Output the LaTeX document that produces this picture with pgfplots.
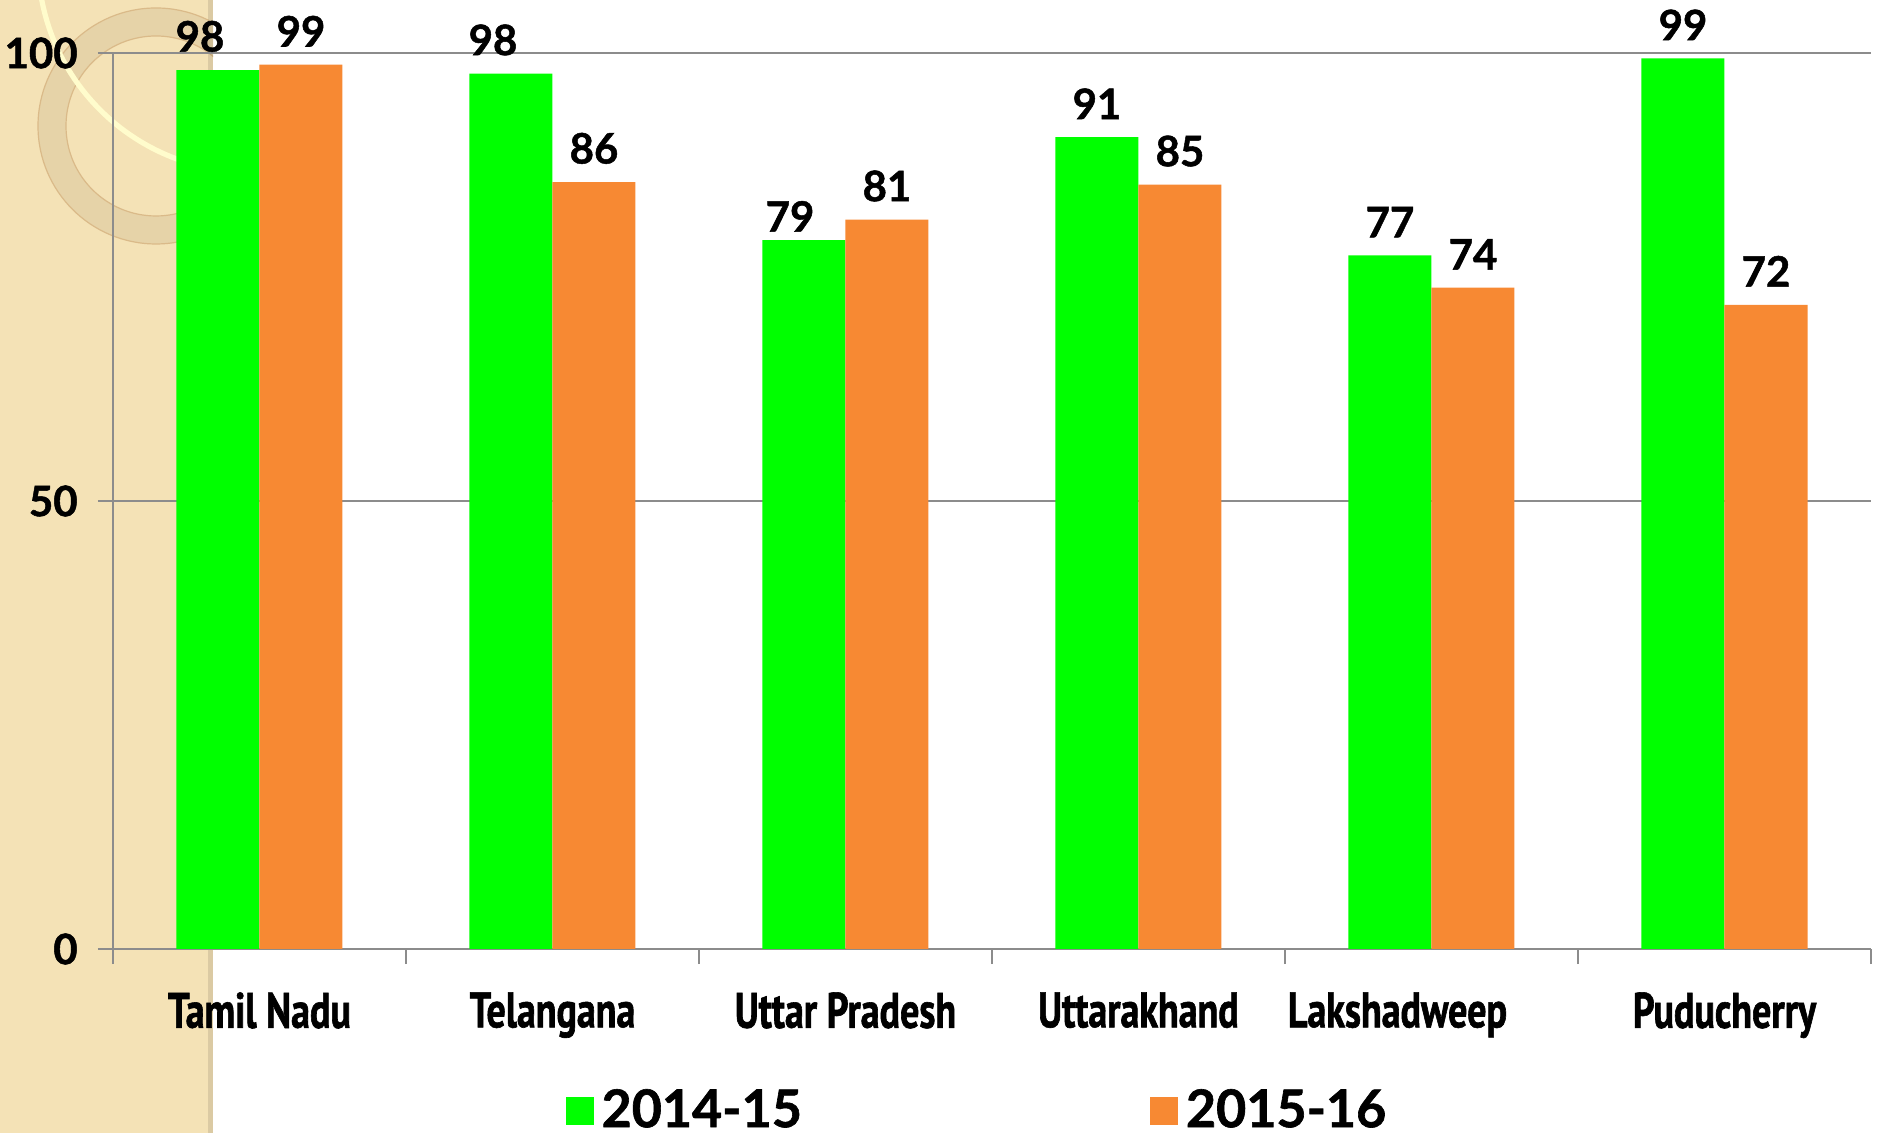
\documentclass[border=0pt]{standalone}
\usepackage{pgfplots}
\pgfplotsset{compat=1.18}
\usepackage{fontspec}
\setmainfont{Lato}[BoldFeatures={FakeBold=1.2}]
\newfontfamily\condfont{PT Sans}[FakeStretch=0.76, BoldFeatures={FakeBold=1.2}]
\definecolor{barg}{RGB}{0,255,0}
\definecolor{baro}{RGB}{247,137,51}
\definecolor{axgray}{RGB}{140,140,140}
\definecolor{beige}{RGB}{244,226,182}
\definecolor{ringc}{RGB}{230,211,168}
\begin{document}
\begin{tikzpicture}
\fill[beige] (0,0) rectangle (53.25pt,283.25pt);
\begin{scope}
\clip (0,0) rectangle (53.25pt,283.25pt);
\fill[ringc, even odd rule] (39pt,251.75pt) circle (29.5pt) (39pt,251.75pt) circle (22.5pt);
\draw[ringc!70!brown, line width=0.3pt] (39pt,251.75pt) circle (29.5pt) (39pt,251.75pt) circle (22.5pt);
\draw[white!80!yellow, line width=1.3pt] (62.5pt,293.25pt) circle (53pt);
\end{scope}
\fill[black, opacity=0.10] (52pt,0) rectangle (53.25pt,283.25pt);
\begin{axis}[
  at={(28.25pt,46pt)}, anchor=south west,
  scale only axis, width=439.5pt, height=224pt,
  ybar=0pt, bar width=20.75pt,
  xmin=-0.5, xmax=5.5, ymin=0, ymax=100,
  xtick={-0.5,0.5,...,5.5},
  x tick label as interval,
  xticklabels={Tamil Nadu,Telangana,Uttar Pradesh,Uttarakhand,Lakshadweep\hspace*{17pt},Puducherry},
  ytick={0,50,100},
  ymajorgrids, grid style={axgray, line width=0.6pt},
  axis x line*=bottom, axis y line*=left,
  axis line style={axgray, line width=0.6pt},
  tick style={axgray, line width=0.6pt},
  tick align=outside, major tick length=3.8pt,
  xtick pos=bottom, ytick pos=left,
  x tick label style={font=\condfont\bfseries\fontsize{12.5}{14}\selectfont, yshift=-3.5pt},
  y tick label style={font=\bfseries\fontsize{10.5}{12}\selectfont, xshift=-1.5pt},
  /pgf/number format/assume math mode=true,
  nodes near coords={\pgfmathprintnumber[fixed,precision=0,assume math mode=true]{\pgfplotspointmeta}},
  point meta=y,
  visualization depends on={value \thisrow{dx}\as\dx},
  visualization depends on={value \thisrow{dy}\as\dy},
  every node near coord/.append style={font=\bfseries\fontsize{10.5}{12}\selectfont, yshift=1pt, text=black, xshift=\dx pt, yshift=\dy pt},
  legend style={draw=none, fill=none, at={(0.257,-0.181)}, anchor=west,
    legend columns=2, font=\bfseries\fontsize{13}{15}\selectfont, inner sep=0pt,
    /tikz/every even column/.append style={column sep=85pt}},
  legend image code/.code={\fill[#1] (0pt,-3.5pt) rectangle (7pt,3.5pt);},
]
\addplot[fill=barg, draw=none] table {
x y dx dy
0 98.1 -4.5 0
1 97.7 -4.5 0
2 79.1 -3.5 -2.4
3 90.6 0 0
4 77.4 0 0
5 99.4 0 0
};
\addplot[fill=baro, draw=none] table {
x y dx dy
0 98.7 0 0
1 85.6 0 0
2 81.4 0 0
3 85.3 0 0
4 73.8 0 0
5 71.9 0 0
};
\legend{2014-15,2015-16}
\end{axis}
\pgfresetboundingbox
\path[use as bounding box] (0,0) rectangle (469.5pt,283.25pt);
\end{tikzpicture}
\end{document}
